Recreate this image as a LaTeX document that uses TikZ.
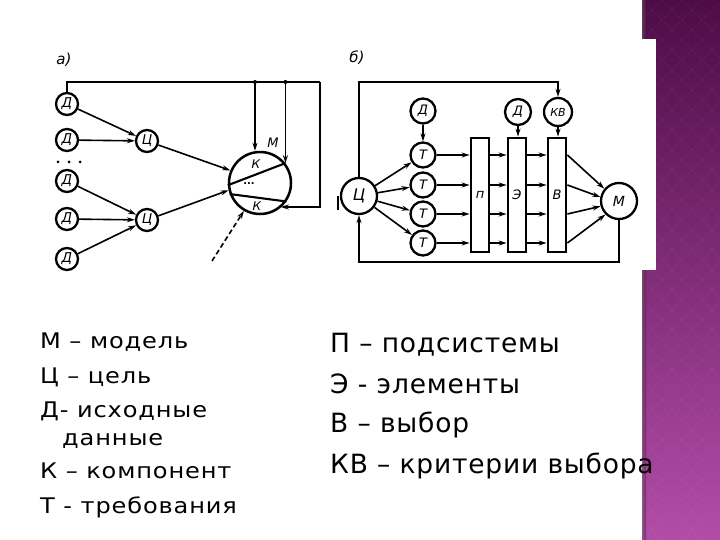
\documentclass[tikz,border=0pt]{standalone}
\usepackage{fontspec}
\setmainfont{DejaVu Sans}
\newfontfamily\lgfontl[FakeStretch=1.12,LetterSpace=4]{DejaVu Sans}
\newfontfamily\lgfontr[LetterSpace=3]{DejaVu Sans}
\usetikzlibrary{arrows.meta,calc}
\definecolor{plumtop}{RGB}{78,12,70}
\definecolor{plummid}{RGB}{140,48,130}
\definecolor{plumbot}{RGB}{178,76,168}
\tikzset{
  ln/.style={line width=1.6pt},
  arr/.style={ln,-{Stealth[length=8pt,width=5pt]}},
  circ/.style={circle,draw,line width=2.3pt,inner sep=0pt,font=\itshape\fontsize{13.5}{13.5}\selectfont},
  smallc/.style={circ,minimum size=22pt},
  midc/.style={circ,minimum size=26pt,font=\itshape\fontsize{13}{13}\selectfont},
  bigc/.style={circ,minimum size=36pt,font=\itshape\fontsize{16}{16}\selectfont},
  bar/.style={draw,line width=2.8pt,minimum width=18pt,minimum height=114pt,inner sep=0pt,font=\itshape\fontsize{13}{13}\selectfont},
  lgl/.style={anchor=base west,inner sep=0pt,font=\lgfontl\fontsize{21.5}{21.5}\selectfont},
  lgr/.style={anchor=base west,inner sep=0pt,font=\lgfontr\fontsize{26.5}{26.5}\selectfont},
  jdot/.style={circle,fill,inner sep=0pt,minimum size=4pt}
}
\begin{document}
\begin{tikzpicture}[x=1pt,y=-1pt]
\useasboundingbox (0,0) rectangle (720,540);
\fill[white] (0,0) rectangle (720,540);
% purple side panel
\shade[top color=plumtop,middle color=plummid,bottom color=plumbot] (642,0) rectangle (720,540);
\begin{scope}
\clip (642,0) rectangle (720,540);
\foreach \k in {-40,-20,...,600} {
  \draw[white,opacity=0.05,line width=0.6pt] (642,\k) -- ++(80,80);
  \draw[white,opacity=0.05,line width=0.6pt] (642,\k) -- ++(80,-80);
}
\end{scope}
\shade[left color=black!60,right color=plumtop,opacity=0.5] (642,0) rectangle (646,540);
\fill[white] (600,39) rectangle (656,270);

% ---------- diagram a ----------
\node[font=\itshape\fontsize{15}{15}\selectfont] (la) at (64,60) {а)};
\node[smallc] (D1) at (67,104) {Д};
\node[smallc] (D2) at (67,140) {Д};
\node[smallc] (D3) at (67,181) {Д};
\node[smallc] (D4) at (67,219) {Д};
\node[smallc] (D5) at (67,259) {Д};
\node[jdot,minimum size=3pt] (d1) at (58,162) {};
\node[jdot,minimum size=3pt] (d2) at (69,162) {};
\node[jdot,minimum size=3pt] (d3) at (80,162) {};
\node[smallc] (C1) at (147,141) {Ц};
\node[smallc] (C2) at (147,220) {Ц};
\node[circ,minimum size=62pt,line width=2.5pt] (M) at (260,183) {};
\node[font=\itshape\fontsize{13}{13}\selectfont] (Ml) at (273,143) {М};
\draw[line width=2.1pt] (M.184) -- (M.38);
\draw[line width=2.1pt] (M.200) -- (M.-35);
\node[font=\itshape\fontsize{12}{12}\selectfont] (K1) at (256,164) {К};
\node[font=\itshape\fontsize{12}{12}\selectfont] (K2) at (257,206) {К};
\node[font=\bfseries\fontsize{10}{10}\selectfont] (dots) at (249,184) {...};
\draw[arr] (D1) -- (C1);
\draw[arr] (D2) -- (C1);
\draw[arr] (D3) -- (C2);
\draw[arr] (D4) -- (C2);
\draw[arr] (D5) -- (C2);
\draw[arr] (C1) -- (M.157);
\draw[arr] (C2) -- (M.193);
\coordinate (tl) at (320,82);
\coordinate (br) at (320,207);
\coordinate (j1) at (255,82);
\coordinate (j2) at (M.38 |- tl);
\draw[ln] (D1.north) |- (tl);
\draw[arr] (tl) -- (br) -- (br -| M.-50);
\draw[arr] (j1) -- (j1 |- M.north);
\draw[arr] (j2) -- (M.38);
\node[jdot] at (j1) {};
\node[jdot] at (j2) {};
\coordinate (ds) at (212,261);
\draw[arr,dash pattern=on 5pt off 3pt] (ds) -- (M.240);
\coordinate (v1) at (338,196);
\coordinate (v2) at (338,210);
\draw[line width=1.3pt] (v1) -- (v2);

% ---------- diagram b ----------
\node[font=\itshape\fontsize{15}{15}\selectfont] (lb) at (357,58) {б)};
\node[bigc] (C) at (359,196) {Ц};
\node[midc,minimum size=25pt] (Dt) at (423,111) {Д};
\node[midc,minimum size=25pt] (T1) at (423,155) {Т};
\node[midc,minimum size=25pt] (T2) at (423,185) {Т};
\node[midc,minimum size=25pt] (T3) at (423,214) {Т};
\node[midc,minimum size=25pt] (T4) at (423,243) {Т};
\node[bar] (P) at (480,195) {п};
\node[bar] (E) at (517,195) {Э};
\node[bar] (B) at (557,195) {В};
\node[midc] (De) at (518,112) {Д};
\node[midc,minimum size=28pt,font=\itshape\fontsize{11}{11}\selectfont] (KB) at (558,112) {КВ};
\node[bigc,font=\itshape\fontsize{14}{14}\selectfont] (Mb) at (619,201) {М};
\coordinate (tb) at (558,82);
\coordinate (bt) at (359,262);
\draw[arr] (C.north) |- (tb) -- (KB.north);
\draw[arr] (Mb.south) |- (bt) -- (C.south);
\draw[arr] (Dt) -- (T1);
\draw[arr] (De) -- (E.north -| De);
\draw[arr] (KB) -- (B.north -| KB);
\foreach \t in {T1,T2,T3,T4} {
  \draw[arr] (C) -- (\t);
  \draw[arr] (\t.east) -- (\t.east -| P.west);
  \draw[arr] (\t.east -| P.east) -- (\t.east -| E.west);
  \draw[arr] (\t.east -| E.east) -- (\t.east -| B.west);
}
\draw[arr] (T1.east -| B.east) -- (Mb.140);
\draw[arr] (T2.east -| B.east) -- (Mb.168);
\draw[arr] (T3.east -| B.east) -- (Mb.196);
\draw[arr] (T4.east -| B.east) -- (Mb.225);

% ---------- legend ----------
\node[lgl] (g1) at (40,348) {М – модель};
\node[lgl] (g2) at (40,383) {Ц – цель};
\node[lgl] (g3) at (40,417) {Д- исходные};
\node[lgl] (g4) at (62,445) {данные};
\node[lgl] (g5) at (40,478) {К – компонент};
\node[lgl] (g6) at (40,513) {Т - требования};
\node[lgr] (h1) at (330,352) {П – подсистемы};
\node[lgr] (h2) at (330,393) {Э - элементы};
\node[lgr] (h3) at (330,432) {В – выбор};
\node[lgr] (h4) at (330,473) {КВ – критерии выбора};
\end{tikzpicture}
\end{document}
